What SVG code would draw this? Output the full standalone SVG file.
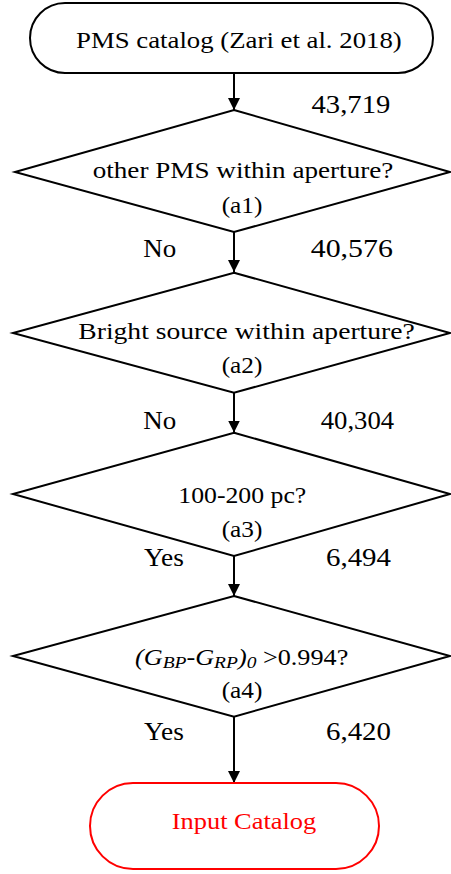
<svg xmlns="http://www.w3.org/2000/svg" width="451" height="874" viewBox="0 0 451 874">
<style>
.shape{fill:#fff;stroke:#000;stroke-width:2}
.term{fill:#fff;stroke:#000;stroke-width:2}
.red{stroke:#ff0000}
.conn{fill:none;stroke:#000;stroke-width:2}
.it{font-style:italic}
.sub{font-size:17.5px;font-style:italic}
</style>
<defs>
<marker id="arr" markerUnits="userSpaceOnUse" markerWidth="12" markerHeight="12" viewBox="0 0 12 12" refX="12" refY="6" orient="auto">
<path d="M0,0 L12,6 L0,12 Z" fill="#000"/>
</marker>
</defs>
<g id="connectors">
<line class="conn" x1="234" y1="73" x2="234" y2="110" marker-end="url(#arr)"/>
<line class="conn" x1="234" y1="232" x2="234" y2="272" marker-end="url(#arr)"/>
<line class="conn" x1="234" y1="393" x2="234" y2="432.5" marker-end="url(#arr)"/>
<line class="conn" x1="234" y1="556" x2="234" y2="596" marker-end="url(#arr)"/>
<line class="conn" x1="234" y1="717" x2="234" y2="783" marker-end="url(#arr)"/>
<g font-family="Liberation Serif, serif" font-size="24.5" fill="#000">
<text transform="translate(311.5 112.7) scale(1.17 1)">43,719</text>
<text transform="translate(143.3 256.7) scale(1.1 1)">No</text>
<text transform="translate(310.7 256.7) scale(1.22 1)">40,576</text>
<text transform="translate(143.3 429.3) scale(1.1 1)">No</text>
<text transform="translate(320.7 429.3) scale(1.09 1)">40,304</text>
<text transform="translate(144 566) scale(1.12 1)">Yes</text>
<text transform="translate(326 566) scale(1.18 1)">6,494</text>
<text transform="translate(144 740) scale(1.12 1)">Yes</text>
<text transform="translate(326 740) scale(1.18 1)">6,420</text>
</g>
</g>
<g font-family="Liberation Serif, serif" font-size="23.5" fill="#000">
<g id="start">
<rect class="term" x="30" y="3" width="403" height="70" rx="35" ry="35"/>
<text transform="translate(76 48) scale(1.14 1)">PMS catalog (Zari et al. 2018)</text>
</g>
<g id="a1">
<polygon class="shape" points="234,110 450,172 234,232 15,172"/>
<text transform="translate(92.7 178.3) scale(1.155 1)">other PMS within aperture?</text>
<text transform="translate(221.7 213.3) scale(1.077 1)">(a1)</text>
</g>
<g id="a2">
<polygon class="shape" points="234,272.7 450,333 234,392.7 13,333"/>
<text transform="translate(78.3 339.3) scale(1.175 1)">Bright source within aperture?</text>
<text transform="translate(221.7 373.3) scale(1.077 1)">(a2)</text>
</g>
<g id="a3">
<polygon class="shape" points="234,432.7 450,494 234,556 13,494"/>
<text transform="translate(178.3 502.7) scale(1.096 1)">100-200 pc?</text>
<text transform="translate(221.7 536.7) scale(1.077 1)">(a3)</text>
</g>
<g id="a4">
<polygon class="shape" points="234,596 450,656 234,716.7 13,656"/>
<text transform="translate(135 665) scale(1.115 1)"><tspan class="it">(G</tspan><tspan class="sub" dy="3">BP</tspan><tspan class="it" dy="-3">-G</tspan><tspan class="sub" dy="3">RP</tspan><tspan class="it" dy="-3">)</tspan><tspan class="sub" dy="3">0</tspan><tspan dy="-3"> &gt;0.994?</tspan></text>
<text transform="translate(221.7 698.3) scale(1.077 1)">(a4)</text>
</g>
<g id="output">
<rect class="term red" x="90" y="783" width="289" height="86" rx="43" ry="43"/>
<text transform="translate(171.7 829.3) scale(1.125 1)" fill="#ff0000">Input Catalog</text>
</g>
</g>
</svg>
